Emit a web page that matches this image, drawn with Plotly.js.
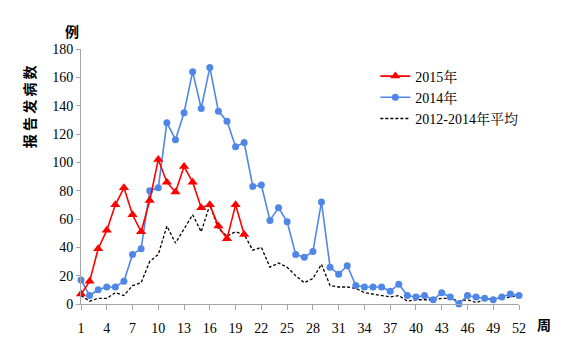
<!DOCTYPE html>
<html>
<head>
<meta charset="utf-8">
<script src="https://cdn.plot.ly/plotly-3.0.1.min.js"></script>
<style>html,body{margin:0;padding:0;background:#fff;}#chart{width:578px;height:356px;}</style>
</head>
<body>
<div id="chart"></div>
<script>
var weeks = [1,2,3,4,5,6,7,8,9,10,11,12,13,14,15,16,17,18,19,20,21,22,23,24,25,26,27,28,29,30,31,32,33,34,35,36,37,38,39,40,41,42,43,44,45,46,47,48,49,50,51,52];
var weeks2015 = [1,2,3,4,5,6,7,8,9,10,11,12,13,14,15,16,17,18,19,20];
var cases2015 = [7,16,39,52,70,82,63,51,73,102,86,79,97,86,68,70,55,46,70,49];
var cases2014 = [17,6,10,12,12,16,35,39,80,82,128,116,135,164,138,167,136,129,111,114,83,84,59,68,58,35,33,37,72,26,21,27,13,12,12,12,9,14,6,5,6,3,8,5,0,6,5,4,3,5,7,6];
var avg2012_2014 = [6,2,4,4,8,6,13,15,30,35,55,43,53,63,51,70,53,48,51,49,38,40,26,29,26,20,15,18,28,13,12,12,11,8,7,6,5,6,2,3,3,3,4,4,2,3,1,3,4,4,5,6];
var xTicks = [1,4,7,10,13,16,19,22,25,28,31,34,37,40,43,46,49,52];
var yTicks = [0,20,40,60,80,100,120,140,160,180];
var names = ["2015年","2014年","2012-2014年平均"];

var serif = "Liberation Serif, Noto Serif CJK SC, Noto Sans CJK SC, serif";
var cjk = "Noto Sans CJK SC, sans-serif";

var traces = [
  {x: weeks, y: avg2012_2014, name: names[2], type: "scatter", mode: "lines", cliponaxis: false,
   line: {color: "#000000", width: 1.3, dash: "3px,2px"}, legendrank: 3},
  {x: weeks, y: cases2014, name: names[1], type: "scatter", mode: "lines+markers", cliponaxis: false,
   line: {color: "#4f87e8", width: 1.6}, marker: {symbol: "circle", size: 7, color: "#4f87e8"}, legendrank: 2},
  {x: weeks2015, y: cases2015, name: names[0], type: "scatter", mode: "lines+markers", cliponaxis: false,
   line: {color: "#ff0000", width: 1.6}, marker: {symbol: "triangle-up", size: 9, color: "#ff0000"}, legendrank: 1}
];

var layout = {
  width: 578, height: 356,
  margin: {l: 81, r: 59, t: 49, b: 52},
  paper_bgcolor: "#ffffff", plot_bgcolor: "#ffffff",
  font: {family: serif, size: 14, color: "#000"},
  showlegend: true,
  legend: {x: 0.672, y: 0.955, xanchor: "left", yanchor: "top", bgcolor: "rgba(0,0,0,0)",
           font: {family: serif, size: 14, color: "#000"}, tracegroupgap: 0, itemwidth: 30},
  xaxis: {range: [1, 52], tickmode: "array", tickvals: xTicks, ticktext: xTicks.map(String),
          showgrid: false, zeroline: false, showline: true, linecolor: "#a6a6a6", linewidth: 1,
          ticks: "outside", ticklen: 5, tickcolor: "#a6a6a6", ticklabelstandoff: 6,
          tickfont: {family: serif, size: 14}},
  yaxis: {range: [0, 180], tickmode: "array", tickvals: yTicks, ticktext: yTicks.map(String),
          showgrid: false, zeroline: false, showline: true, linecolor: "#a6a6a6", linewidth: 1,
          ticks: "outside", ticklen: 4, tickcolor: "#a6a6a6", tickfont: {family: serif, size: 14}},
  annotations: [
    {text: "<b>报 告 发 病 数</b>", xref: "paper", yref: "paper", x: -0.117, y: 0.775,
     xanchor: "center", yanchor: "middle", textangle: -90, showarrow: false,
     font: {family: cjk, size: 14, color: "#000"}},
    {text: "<b>例</b>", xref: "paper", yref: "paper", x: -0.02, y: 1.07,
     xanchor: "center", yanchor: "middle", showarrow: false, font: {family: cjk, size: 14, color: "#000"}},
    {text: "<b>周</b>", xref: "paper", yref: "paper", x: 1.057, y: -0.08,
     xanchor: "center", yanchor: "middle", showarrow: false, font: {family: cjk, size: 14, color: "#000"}}
  ]
};

Plotly.newPlot("chart", traces, layout, {staticPlot: true, displayModeBar: false});
</script>
</body>
</html>
